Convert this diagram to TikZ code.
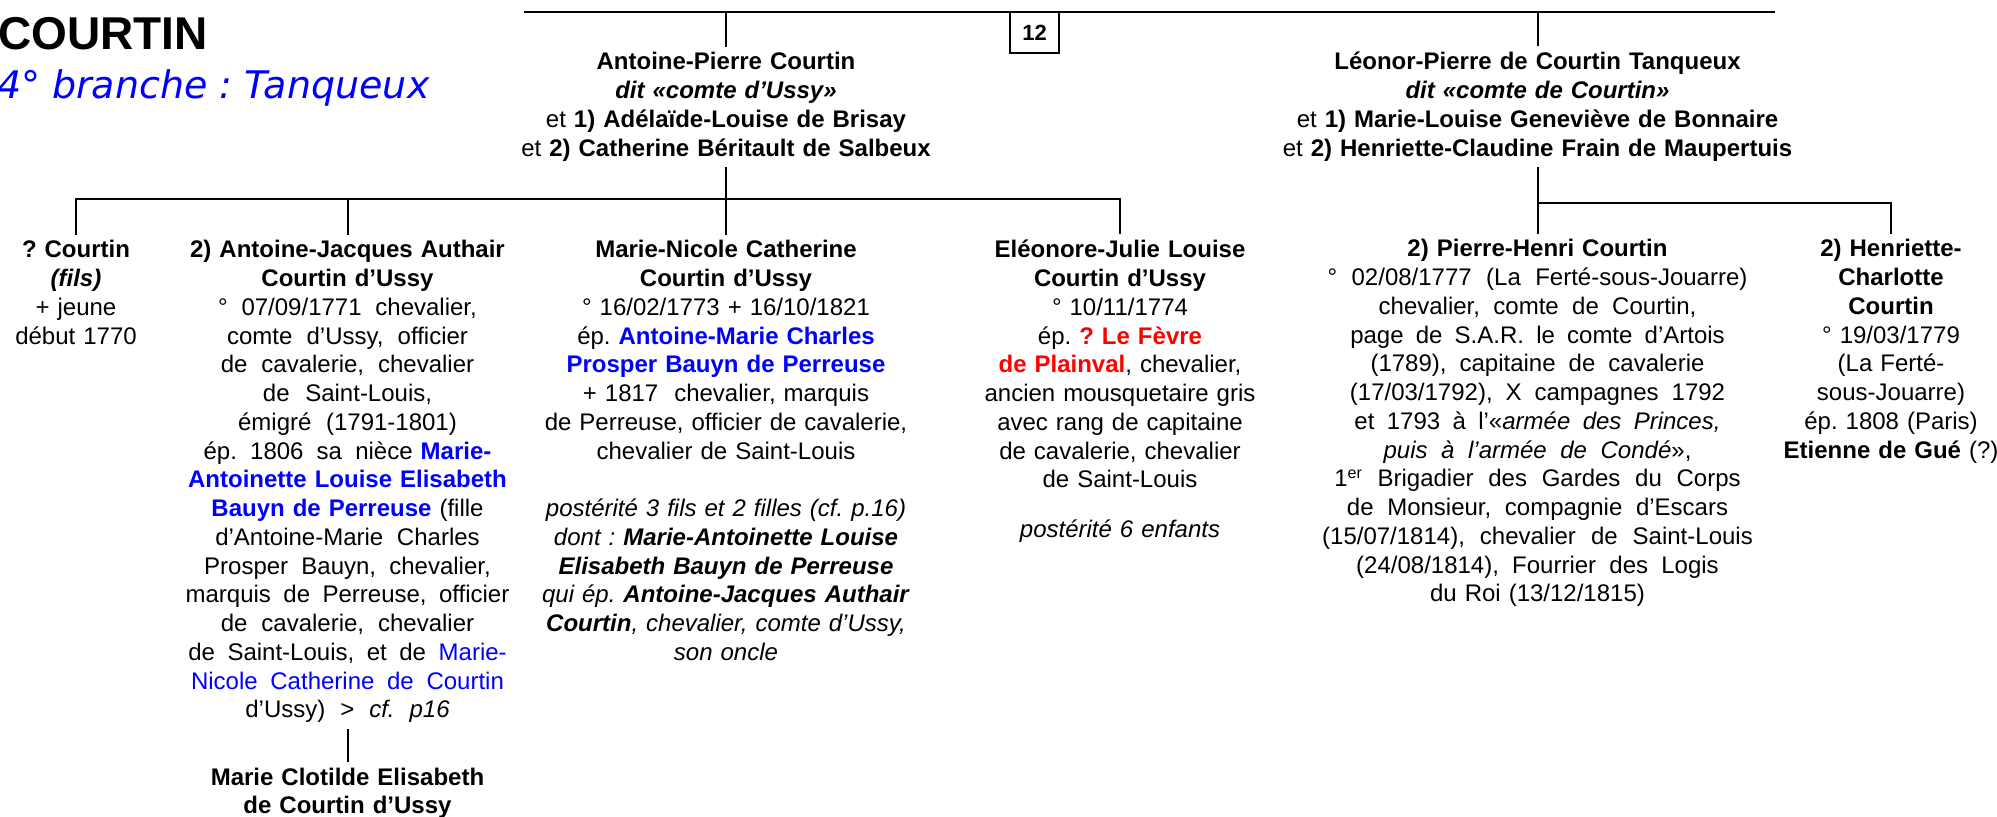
\documentclass[tikz,border=0pt]{standalone}
\usepackage{fontspec}
\setmainfont{Liberation Sans}
\newfontfamily\verdana{DejaVu Sans}
\usepackage{xcolor}
\usepackage{tikz}
\frenchspacing
\newcommand{\bleu}[1]{\textcolor{blue}{\textbf{#1}}}
\newcommand{\rouge}[1]{\textcolor{red}{\textbf{#1}}}
\newcommand{\ecarte}[2]{{\spaceskip=#1 plus 1pt\relax#2}}

\begin{document}
\begin{tikzpicture}[x=0.5pt, y=-0.5pt, line width=1pt,
		every node/.style={inner sep=0pt, font=\fontsize{12}{14.375}\selectfont},
		personne/.style={anchor=base, align=center, text width=240pt, outer ysep=3pt},
		parent/.style={personne, text width=320pt, font=\fontsize{12}{14.4}\selectfont}]
			\useasboundingbox (0,0) rectangle (1997,817);
			\node[anchor=base west, font=\fontsize{23}{23}\selectfont\bfseries] (titre) at (-3,50) {COURTIN};
			\node[anchor=base west, text=blue, font=\verdana\itshape\fontsize{19}{19}\selectfont] (branche) at (-4,99) {4° branche : Tanqueux};
			\coordinate (hautG) at (524,12);
			\coordinate (hautD) at (1775,12);
			\coordinate (barreG) at (0,199);
			\coordinate (barreD) at (0,203);
			\node[draw, line width=0.6pt, minimum width=24.5pt, minimum height=20.5pt, font=\fontsize{11}{11}\selectfont\bfseries] (page12) at (1034.5,32.5) {12};
			
			\node[parent] (antoinep) at (726,70) {\textbf{Antoine-Pierre Courtin}\\
				\textbf{\textit{dit «comte d’Ussy»}}\\
				et \textbf{1) Adélaïde-Louise de Brisay}\\
				et \textbf{2) Catherine Béritault de Salbeux}};
			\node[parent] (leonor) at (1537.5,70) {\textbf{Léonor-Pierre de Courtin Tanqueux}\\
				\textbf{\textit{dit «comte de Courtin»}}\\
				et \textbf{1) Marie-Louise Geneviève de Bonnaire}\\
				et \textbf{2) Henriette-Claudine Frain de Maupertuis}};
			
			\node[personne] (fils) at (76,258) {\textbf{? Courtin}\\ \textbf{\textit{(fils)}}\\ + jeune\\ début 1770};
			\node[personne] (antoinej) at (347.5,258) {\textbf{2) Antoine-Jacques Authair}\\
				\textbf{Courtin d’Ussy}\\
				\ecarte{4.6pt}{° 07/09/1771 chevalier,}\\
				\ecarte{4.6pt}{comte d’Ussy, officier}\\
				\ecarte{4.6pt}{de cavalerie, chevalier}\\
				\ecarte{4.6pt}{de Saint-Louis,}\\
				\ecarte{4.6pt}{émigré (1791-1801)}\\
				\ecarte{4.6pt}{ép. 1806 sa nièce} \bleu{Marie-}\\
				\bleu{Antoinette Louise Elisabeth}\\
				\bleu{Bauyn de Perreuse} (fille\\
				\ecarte{4.6pt}{d’Antoine-Marie Charles}\\
				\ecarte{4.6pt}{Prosper Bauyn, chevalier,}\\
				\ecarte{4.6pt}{marquis de Perreuse, officier}\\
				\ecarte{4.6pt}{de cavalerie, chevalier}\\
				\ecarte{4.6pt}{de Saint-Louis, et de \textcolor{blue}{Marie-}}\\
				\ecarte{4.6pt}{\textcolor{blue}{Nicole Catherine de Courtin}}\\
				\ecarte{4.6pt}{d’Ussy) > \textit{cf. p16}}};
			\node[personne] (clotilde) at (347.5,785) {\textbf{Marie Clotilde Elisabeth}\\ \textbf{de Courtin d’Ussy}};
			\node[personne] (marien) at (726,258) {\textbf{Marie-Nicole Catherine}\\
				\textbf{Courtin d’Ussy}\\
				° 16/02/1773 + 16/10/1821\\
				ép. \bleu{Antoine-Marie Charles}\\
				\bleu{Prosper Bauyn de Perreuse}\\
				+ 1817\ \ chevalier, marquis\\
				de Perreuse, officier de cavalerie,\\
				chevalier de Saint-Louis\\[14.375pt]
				\textit{postérité 3 fils et 2 filles (cf. p.16)}\\
				\textit{dont : \textbf{Marie-Antoinette Louise}}\\
				\textit{\textbf{Elisabeth Bauyn de Perreuse}}\\
				\textit{qui ép. \textbf{Antoine-Jacques Authair}}\\
				\textit{\textbf{Courtin}, chevalier, comte d’Ussy,}\\
				\textit{son oncle}};
			\node[personne] (eleonore) at (1120,258) {\textbf{Eléonore-Julie Louise}\\
				\textbf{Courtin d’Ussy}\\
				° 10/11/1774\\
				ép. \rouge{? Le Fèvre}\\
				\rouge{de Plainval}, chevalier,\\
				ancien mousquetaire gris\\
				avec rang de capitaine\\
				de cavalerie, chevalier\\
				de Saint-Louis\\[10.6pt]
				\textit{postérité 6 enfants}};
			\node[personne] (pierreh) at (1537.5,257) {\textbf{2) Pierre-Henri Courtin}\\
				\ecarte{6.6pt}{° 02/08/1777 (La Ferté-sous-Jouarre)}\\
				\ecarte{5pt}{chevalier, comte de Courtin,}\\
				\ecarte{5pt}{page de S.A.R. le comte d’Artois}\\
				\ecarte{5pt}{(1789), capitaine de cavalerie}\\
				\ecarte{5.4pt}{(17/03/1792), X campagnes 1792}\\
				\ecarte{5pt}{et 1793 à l’«\textit{armée des Princes,}}\\
				\ecarte{5pt}{\textit{puis à l’armée de Condé}»,}\\
				\ecarte{6.6pt}{1\textsuperscript{er} Brigadier des Gardes du Corps}\\
				\ecarte{5.8pt}{de Monsieur, compagnie d’Escars}\\
				\ecarte{7pt}{(15/07/1814), chevalier de Saint-Louis}\\
				\ecarte{5.4pt}{(24/08/1814), Fourrier des Logis}\\
				du Roi (13/12/1815)};
			\node[personne] (henriette) at (1891,257) {\textbf{2) Henriette-}\\ \textbf{Charlotte}\\ \textbf{Courtin}\\
				° 19/03/1779\\ (La Ferté-\\ sous-Jouarre)\\ ép. 1808 (Paris)\\ \textbf{Etienne de Gué} (?)};
			
			\draw[-] (hautG) -- (hautD);
			\foreach \pere in {antoinep, leonor}
			{
				\draw[-] (\pere.north |- hautG) -- (\pere.north);
			}
			\draw[-] (antoinep.south) -- (antoinep.south |- marien.north);
			\draw[-] (fils.north) -- (fils.north |- barreG) -- (eleonore.north |- barreG) -- (eleonore.north);
			\draw[-] (antoinej.north) -- (antoinej.north |- barreG);
			\draw[-] (leonor.south) -- (leonor.south |- pierreh.north);
			\draw[-] (pierreh.north |- barreD) -- (henriette.north |- barreD) -- (henriette.north);
			\draw[-] (antoinej.south) -- (antoinej.south |- clotilde.north);
		\end{tikzpicture}
\end{document}
